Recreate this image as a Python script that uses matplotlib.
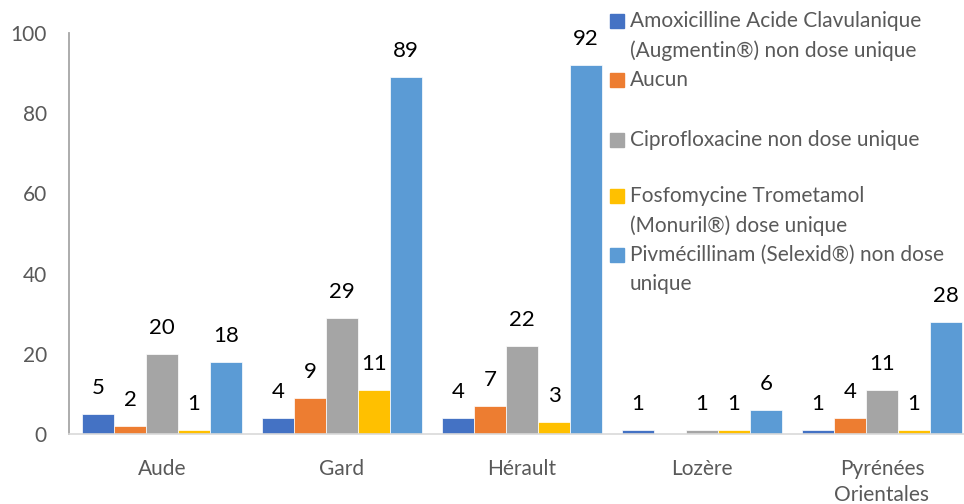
import matplotlib
matplotlib.use("Agg")
import matplotlib.pyplot as plt
import numpy as np
from matplotlib.patches import Rectangle

categories = ["Aude", "Gard", "Hérault", "Lozère", "Pyrénées\nOrientales"]
series_names = [
    "Amoxicilline Acide Clavulanique\n(Augmentin®) non dose unique",
    "Aucun",
    "Ciprofloxacine non dose unique",
    "Fosfomycine Trometamol\n(Monuril®) dose unique",
    "Pivmécillinam (Selexid®) non dose\nunique",
]
amox = [5, 4, 4, 1, 1]
aucun = [2, 9, 7, 0, 4]
cipro = [20, 29, 22, 1, 11]
fosfo = [1, 11, 3, 1, 1]
pivme = [18, 89, 92, 6, 28]
series_values = [amox, aucun, cipro, fosfo, pivme]
colors = ["#4472C4", "#ED7D31", "#A5A5A5", "#FFC000", "#5B9BD5"]
yticks = [0, 20, 40, 60, 80, 100]

plt.rcParams['font.family'] = ['Lato', 'DejaVu Sans']

fig = plt.figure(figsize=(9.64, 5.04), dpi=100)
W, H = 964, 504
ax_left = 69
ax = fig.add_axes([ax_left / W, 1 - 434 / H, 1 - ax_left / W, (434 - 33) / H])

x = np.arange(len(categories))
slot = 180.0
bw = 32 / slot
n = len(series_values)
for i, (vals, col) in enumerate(zip(series_values, colors)):
    pos = x + (i - (n - 1) / 2) * bw
    ax.bar(pos, vals, width=bw, color=col, edgecolor='white', linewidth=0.5)
    for p, v in zip(pos, vals):
        if v > 0:
            ax.text(p, v + 4.0, str(v), ha='center', va='bottom', fontsize=16, color='black')

x0 = -0.5 - (72 - ax_left) / slot
ax.set_xlim(x0, x0 + (W - ax_left) / slot)
ax.set_ylim(0, 100)
ax.set_yticks(yticks)
ax.set_xticks(x)
ax.set_xticklabels(categories, fontsize=15, color='#595959', linespacing=1.4)
ax.tick_params(axis='y', length=0, labelsize=15, labelcolor='#595959', pad=16)
ax.tick_params(axis='x', length=0, pad=18)
for s in ['top', 'right']:
    ax.spines[s].set_visible(False)
ax.spines['bottom'].set_color('#D9D9D9')
ax.spines['bottom'].set_linewidth(1.2)
ax.spines['left'].set_color('#A6A6A6')
ax.spines['left'].set_linewidth(1.3)

# legend drawn manually, one text per line
slot_tops = [20, 79, 139, 195, 254]
for name, col, yt in zip(series_names, colors, slot_tops):
    fig.patches.append(Rectangle((610 / W, 1 - (yt + 8) / H), 14 / W, 14 / H,
                                 transform=fig.transFigure, color=col, figure=fig))
    for k, line in enumerate(name.split("\n")):
        fig.text(630 / W, 1 - (yt - 9 + 29 * k) / H, line, ha='left', va='top',
                 fontsize=15, color='#595959')

fig.savefig("out.png", dpi=100)
